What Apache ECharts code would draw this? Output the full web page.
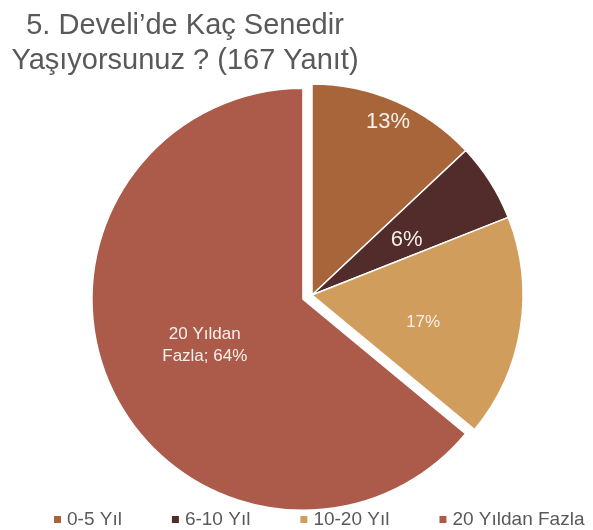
<!DOCTYPE html>
<html>
<head>
<meta charset="utf-8">
<script src="https://cdn.jsdelivr.net/npm/echarts@6/dist/echarts.min.js"></script>
<style>
    html, body { margin: 0; padding: 0; background: #fff; }
    #chart { width: 593px; height: 530px; }
</style>
</head>
<body>
<div id="chart"></div>
<script>
// Develi'de kaç senedir yaşıyorsunuz - pasta grafik
var categories = ['0-5 Yıl', '6-10 Yıl', '10-20 Yıl', '20 Yıldan Fazla'];
var percents = [13, 6, 17, 64];
var colors = ['#A8653A', '#512C2A', '#D19D5C', '#AC5A4A'];

var myChart = echarts.init(document.getElementById('chart'));

var data = categories.map(function (name, i) {
    return {
        name: name,
        value: percents[i],
        selected: i === 3,
        itemStyle: { color: colors[i] },
        label: { fontSize: i < 2 ? 22 : 17 }
    };
});

var option = {
    title: {
        text: '5. Develi\u2019de Kaç Senedir\nYaşıyorsunuz ? (167 Yanıt)',
        left: 180,
        top: 3,
        textAlign: 'center',
        textStyle: {
            fontFamily: 'Liberation Sans',
            fontSize: 29,
            fontWeight: 'normal',
            color: '#595959',
            lineHeight: 35
        }
    },
    legend: {
        data: categories,
        left: 52,
        top: 510,
        width: 560,
        padding: 0,
        icon: 'rect',
        itemWidth: 9,
        itemHeight: 9,
        itemGap: 48,
        textStyle: {
            fontFamily: 'Liberation Sans',
            fontSize: 19,
            color: '#595959'
        }
    },
    series: [{
        type: 'pie',
        center: [312, 295],
        radius: 211,
        startAngle: 90,
        selectedMode: 'multiple',
        selectedOffset: 10,
        animation: false,
        itemStyle: {
            borderColor: '#fff',
            borderWidth: 1.5
        },
        label: {
            position: 'inside',
            fontFamily: 'Liberation Sans',
            fontSize: 17,
            color: '#f8f0ea',
            lineHeight: 22,
            formatter: function (p) {
                if (p.dataIndex === 3) {
                    return '20 Yıldan\nFazla; ' + p.value + '%';
                }
                return p.value + '%';
            }
        },
        labelLine: { show: false },
        emphasis: { disabled: true },
        labelLayout: function (p) {
            if (p.dataIndex === 0) return { dx: 33, dy: -73 };
            if (p.dataIndex === 1) return { dx: 3, dy: 3 };
            if (p.dataIndex === 2) return { dx: 4, dy: 10 };
            return {};
        },
        data: data
    }]
};

myChart.setOption(option);
</script>
</body>
</html>
